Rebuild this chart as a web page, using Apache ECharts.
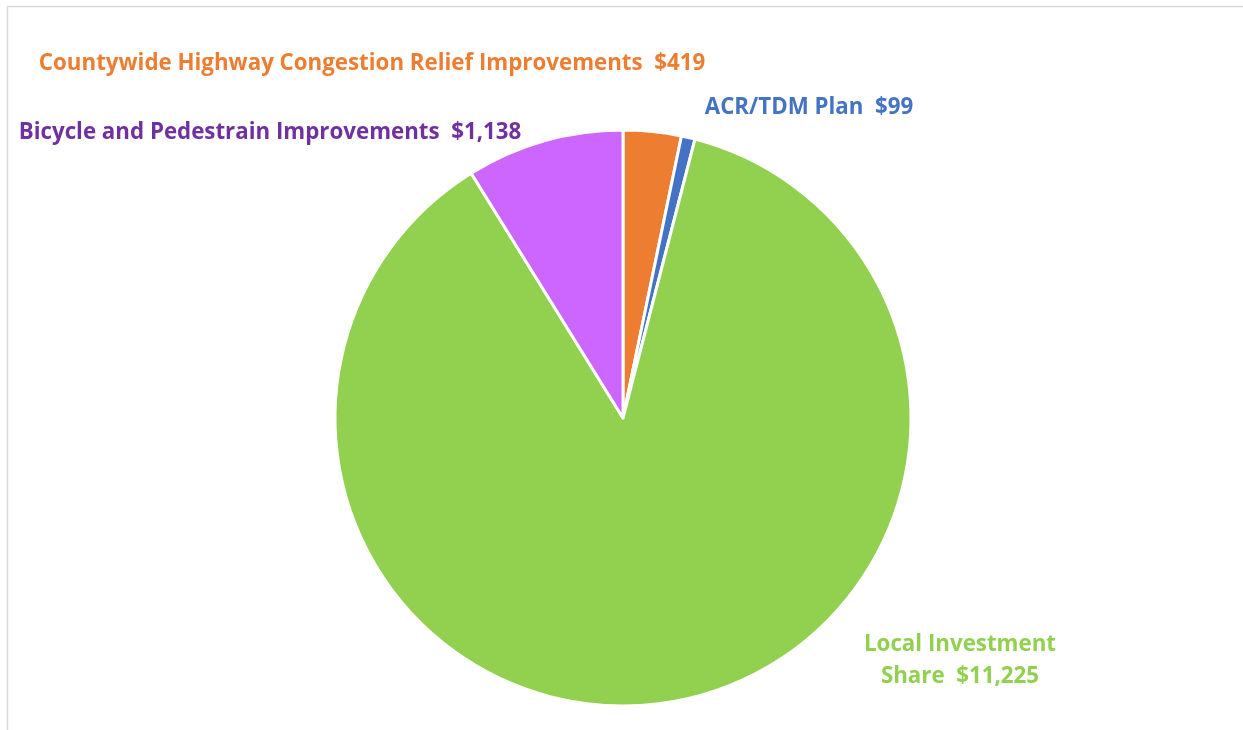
<!DOCTYPE html>
<html><head><meta charset="utf-8">
<style>html,body{margin:0;padding:0;background:#fff}#c{width:1243px;height:730px}</style>
<script src="https://cdn.jsdelivr.net/npm/echarts@6/dist/echarts.min.js"></script>
</head><body><div id="c"></div>
<script>
const categories = ['Countywide Highway Congestion Relief Improvements', 'ACR/TDM Plan', 'Local Investment\nShare', 'Bicycle and Pedestrain Improvements'];
const values = [419, 99, 11225, 1138];
const sliceColors = ['#ED7D31', '#4472C4', '#92D050', '#CC66FF'];
const labelColors = ['#ED7D31', '#4472C4', '#92D050', '#7030A0'];
const labelPos = [[372, 64], [809, 108], [960, 661], [270, 133]];

const chart = echarts.init(document.getElementById('c'));
const fmt = v => '$' + v.toLocaleString('en-US');
chart.setOption({
  animation: false,
  graphic: [{type: 'rect', shape: {x: 7.5, y: 6.5, width: 1300, height: 800}, style: {fill: 'none', stroke: '#d9d9d9', lineWidth: 1.5}, silent: true}],
  series: [{
    type: 'pie',
    center: [623, 418],
    radius: [0, 288],
    startAngle: 90,
    clockwise: true,
    data: categories.map((n, i) => ({name: n, value: values[i], itemStyle: {color: sliceColors[i]},
      label: {color: labelColors[i]}})),
    itemStyle: {borderColor: '#fff', borderWidth: 3},
    label: {
      show: true,
      position: 'outside',
      formatter: p => p.name + '  ' + fmt(p.value),
      fontFamily: 'Open Sans', fontWeight: 'bold', fontSize: 22.3, lineHeight: 32, align: 'center',
      overflow: 'none', width: 1000
    },
    labelLine: {show: false},
    labelLayout: p => ({x: labelPos[p.dataIndex][0], y: labelPos[p.dataIndex][1], align: 'center', verticalAlign: 'middle', width: 1000})
  }]
});
</script></body></html>
